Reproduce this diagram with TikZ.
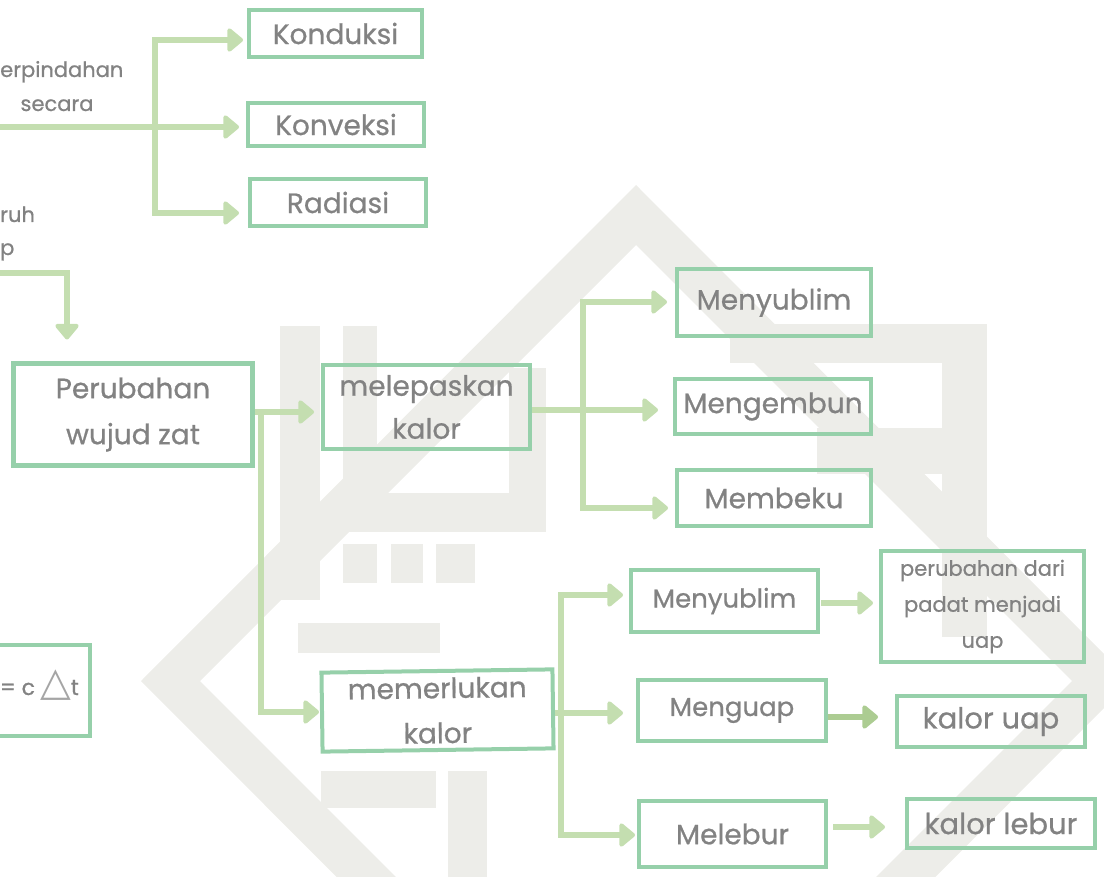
\documentclass[tikz,border=0pt]{standalone}
\usepackage{fontspec}
\setmainfont{Poppins}[FakeBold=0.7]
\newfontfamily\symfont{DejaVu Sans}
\usetikzlibrary{arrows.meta}
\definecolor{boxg}{RGB}{150,208,170}
\definecolor{arrg}{RGB}{196,222,176}
\definecolor{arrd}{RGB}{172,204,146}
\definecolor{txt}{RGB}{130,130,130}
\definecolor{tri}{RGB}{165,165,165}
\definecolor{wm}{RGB}{237,237,233}
\tikzset{
  box/.style={draw=boxg, line width=4pt, inner sep=0pt, text=txt, align=center,
    font=\fontsize{28}{44}\selectfont},
  smalltext/.style={text=txt, inner sep=0pt, align=center, font=\fontsize{21}{36}\selectfont},
  arr/.style={draw=arrg, line width=6pt,
    -{Triangle[length=17pt,width=27pt,round]}},
  arrdark/.style={arr, draw=arrd},
}
\begin{document}
\begin{tikzpicture}[x=1pt,y=-1pt]
\useasboundingbox (0,0) rectangle (1104,877);
\clip (0,0) rectangle (1104,877);
% watermark
\fill[wm, even odd rule] (141,681) -- (636,185) -- (1131,681) -- (636,1177) -- cycle
  (200,681) -- (636,245) -- (1072,681) -- (636,1117) -- cycle;
\fill[wm] (280,326) rectangle (320,600);
\fill[wm] (343,326) rectangle (377,532);
\fill[wm] (509,368) rectangle (546,532);
\fill[wm] (343,493) rectangle (546,532);
\fill[wm] (343,544) rectangle (377,583);
\fill[wm] (391,544) rectangle (423,583);
\fill[wm] (436,544) rectangle (475,583);
\fill[wm] (730,324) rectangle (987,363);
\fill[wm] (942,324) rectangle (987,637);
\fill[wm] (817,428) rectangle (942,474);
\fill[wm] (298,623) rectangle (440,653);
\fill[wm] (321,771) rectangle (436,808);
\fill[wm] (448,771) rectangle (487,877);

% boxes
\node[box, minimum width=173pt, minimum height=47pt] (kond) at (335.5,33.5) {Konduksi};
\node[box, minimum width=176pt, minimum height=43pt] (konv) at (336,124.5) {Konveksi};
\node[box, minimum width=176pt, minimum height=47pt] (rad) at (338,202.5) {Radiasi};
\node[box, line width=5pt, minimum width=239pt, minimum height=101pt, font=\fontsize{28}{46}\selectfont] (pwz) at (133,414.5) {Perubahan\\wujud zat};
\node[box, minimum width=207pt, minimum height=84pt, font=\fontsize{28}{43}\selectfont] (mel) at (426.5,407) {melepaskan\\kalor};
\node[box, minimum width=231pt, minimum height=79pt, rotate=0.8, font=\fontsize{28}{45}\selectfont] (mer) at (437.5,710.5) {memerlukan\\kalor};
\node[box, minimum width=194pt, minimum height=67pt] (my1) at (774,302.5) {Menyublim};
\node[box, minimum width=196pt, minimum height=55pt] (mge) at (773,406.5) {Mengembun};
\node[box, minimum width=194pt, minimum height=56pt] (mbk) at (774,498) {Membeku};
\node[box, minimum width=187pt, minimum height=62pt, font=\fontsize{26}{40}\selectfont] (my2) at (724.5,601) {Menyublim};
\node[box, minimum width=188pt, minimum height=61pt, font=\fontsize{26}{40}\selectfont] (mgu) at (732,710.5) {Menguap};
\node[box, minimum width=187pt, minimum height=66pt] (mlb) at (732.5,834) {Melebur};
\node[box, minimum width=203pt, minimum height=111pt, font=\fontsize{21}{36}\selectfont] (pdm) at (982.5,606.5) {perubahan dari\\padat menjadi\\uap};
\node[box, minimum width=188pt, minimum height=51pt, font=\fontsize{29}{44}\selectfont] (kup) at (991,721.5) {kalor uap};
\node[box, minimum width=188pt, minimum height=49pt, font=\fontsize{29}{44}\selectfont] (klb) at (1001,823.5) {kalor lebur};
\node[box, minimum width=188pt, minimum height=91pt] (qbox) at (-4,690.5) {};
\node[text=txt, inner sep=0pt, anchor=base east, font=\fontsize{22}{30}\selectfont] (qtext) at (79,695) {= c\hspace{5pt}{\symfont\fontsize{40}{40}\selectfont\color{tri}△}t};

% side texts
\node[smalltext, anchor=base west] (perp) at (0,77) {erpindahan};
\node[smalltext, anchor=base] (secara) at (57,111) {secara};
\node[smalltext, anchor=base west] (ruh) at (0,222) {ruh};
\node[smalltext, anchor=base west] (pp) at (0,255) {p};

% connectors
\coordinate (a0) at (0,127);
\coordinate (j1) at (155,127);
\coordinate (j1t) at (155,40);
\coordinate (j1b) at (155,213);
\draw[arr, shorten >=7pt] (a0) -- (konv.west |- a0);
\draw[arr, shorten >=4pt] (j1) |- (kond.west |- j1t);
\draw[arr, shorten >=9pt] (j1) |- (rad.west |- j1b);

\coordinate (b0) at (0,273);
\coordinate (b1) at (67,273);
\draw[arr, shorten >=22pt] (b0) -| (pwz.north -| b1);

\coordinate (c1) at (261,412);
\coordinate (c2) at (261,712);
\draw[arr, shorten >=7pt] (pwz.east |- c1) -- (mel.west |- c1);
\draw[arr, shorten >=1pt] (c1) |- (mer.west |- c2);

\coordinate (d1) at (583,410);
\coordinate (d1t) at (583,302);
\coordinate (d1b) at (583,508);
\draw[arr, shorten >=15pt] (mel.east |- d1) -- (mge.west |- d1);
\draw[arr, shorten >=8pt] (d1) |- (my1.west |- d1t);
\draw[arr, shorten >=7pt] (d1) |- (mbk.west |- d1b);

\coordinate (e1) at (561,713);
\coordinate (e1t) at (561,595);
\coordinate (e1b) at (561,835);
\draw[arr, shorten >=13pt] (mer.east |- e1) -- (mgu.west |- e1);
\draw[arr, shorten >=6pt] (e1) |- (my2.west |- e1t);
\draw[arr, shorten >=2pt] (e1) |- (mlb.west |- e1b);

\coordinate (f1) at (821,603);
\coordinate (g1) at (828,717);
\coordinate (h1) at (833,827);
\draw[arr, shorten >=6pt] (f1) -- (pdm.west |- f1);
\draw[arrdark, shorten >=17pt] (g1) -- (kup.west |- g1);
\draw[arr, shorten >=20pt] (h1) -- (klb.west |- h1);
\end{tikzpicture}
\end{document}
